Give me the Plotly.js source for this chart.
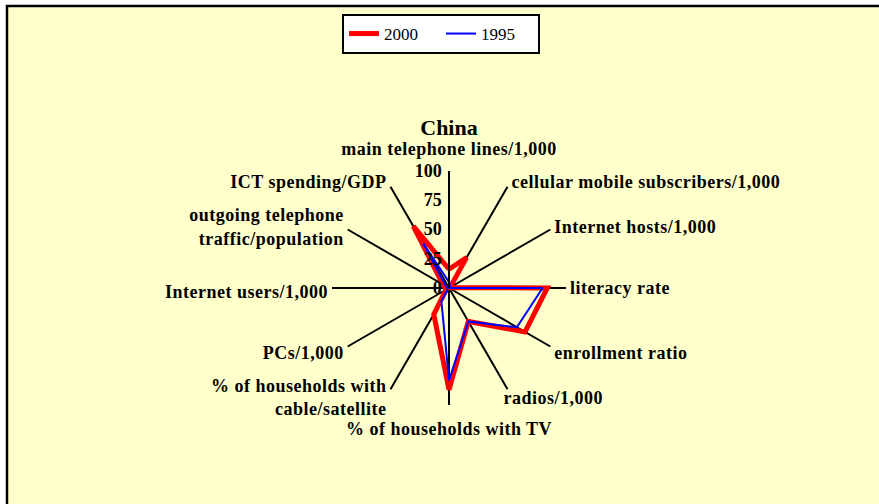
<!DOCTYPE html>
<html>
<head>
<meta charset="utf-8">
<script src="https://cdn.plot.ly/plotly-3.0.1.min.js"></script>
<style>
html,body{margin:0;padding:0;background:#ffffff;}
#chart{width:879px;height:504px;}
#chart .angularaxistick text, #chart .radialaxistick text { letter-spacing: 0.5px; }
#chart .legendtext { font-family: 'Liberation Serif', 'Times New Roman', serif !important; }
</style>
</head>
<body>
<div id="chart"></div>
<script>
const categories = [
  "main telephone lines/1,000",
  "cellular mobile subscribers/1,000",
  "Internet hosts/1,000",
  "literacy rate",
  "enrollment ratio",
  "radios/1,000",
  "% of households with TV",
  "% of households with<br>cable/satellite",
  "PCs/1,000",
  "Internet users/1,000",
  "outgoing telephone<br>traffic/population",
  "ICT spending/GDP"
];
const values2000 = [16, 30, 1, 84, 75, 33, 87, 26, 3, 3, 6, 61];
const values1995 = [5, 2, 0.5, 80, 67, 33, 79, 13, 1, 1, 3, 44];
const seriesNames = ["2000", "1995"];
const radialTicks = [0, 25, 50, 75, 100];

const FONT = "'Liberation Serif', 'Times New Roman', Times, serif";
function closed(a){ return a.concat([a[0]]); }

const traces = [
  {
    type: "scatterpolar",
    r: closed(values2000),
    theta: closed(categories),
    mode: "lines",
    name: seriesNames[0],
    line: {color: "#ff0000", width: 5},
    hoverinfo: "skip"
  },
  {
    type: "scatterpolar",
    r: closed(values1995),
    theta: closed(categories),
    mode: "lines",
    name: seriesNames[1],
    line: {color: "#0000ff", width: 2},
    hoverinfo: "skip"
  }
];

const R = 117;
const cx = 449, cy = 288, W = 879, H = 504;
// label placement (the original frame is slightly taller than wide)
const LABEL_RX = R, LABEL_RY = 122;

const layout = {
  width: W, height: H,
  margin: {l: 0, r: 0, t: 0, b: 0},
  paper_bgcolor: "#ffffff",
  font: {family: FONT, color: "#000000", size: 18},
  showlegend: true,
  title: {
    text: "<b>China</b>",
    font: {family: FONT, size: 22, color: "#000"},
    x: cx / W, xanchor: "center",
    y: 1 - 127 / H, yanchor: "middle"
  },
  legend: {
    orientation: "h",
    x: 441 / W, xanchor: "center",
    y: 1 - 14 / H, yanchor: "top",
    bgcolor: "#ffffff",
    bordercolor: "#000000",
    borderwidth: 2,
    font: {family: FONT, size: 17, color: "#000"},
    entrywidth: 52,
    tracegroupgap: 0
  },
  shapes: [
    {
      type: "rect", xref: "paper", yref: "paper", layer: "below",
      x0: 7 / W, x1: 1.02, y0: -0.02, y1: 1 - 6 / H,
      fillcolor: "#ffffcc",
      line: {color: "#000000", width: 2.5}
    }
  ],
  polar: {
    bgcolor: "rgba(0,0,0,0)",
    domain: {
      x: [(cx - R) / W, (cx + R) / W],
      y: [(H - cy - R) / H, (H - cy + R) / H]
    },
    radialaxis: {
      range: [0, 100],
      tickvals: radialTicks,
      ticktext: radialTicks.map(v => "<b>" + v + "</b>"),
      angle: 90,
      side: "counterclockwise",
      showline: true,
      linecolor: "#000000",
      linewidth: 2,
      showgrid: false,
      ticks: "",
      tickfont: {family: FONT, size: 18, color: "#000"},
      tickangle: 90
    },
    angularaxis: {
      type: "category",
      categoryarray: categories,
      direction: "clockwise",
      rotation: 90,
      showline: false,
      showgrid: true,
      gridcolor: "#000000",
      gridwidth: 2,
      ticks: "outside",
      ticklen: 8,
      tickcolor: "rgba(0,0,0,0)",
      tickvals: categories,
      ticktext: categories.map(c => "<b>" + c + "</b>"),
      tickfont: {family: FONT, size: 18, color: "#000"}
    }
  }
};

Plotly.newPlot("chart", traces, layout, {displayModeBar: false, staticPlot: true}).then(function () {
  // Place side labels like the original: vertically centred on the spoke end,
  // with a small horizontal gap.
  const N = categories.length;
  const keys = categories.map(c => c.replace(/<br>/g, "").replace(/\s+/g, ""));
  const host = document.getElementById("chart").getBoundingClientRect();
  document.querySelectorAll("#chart .angularaxistick").forEach(function (g) {
    const t = g.querySelector("text");
    if (!t) return;
    const i = keys.indexOf(t.textContent.replace(/\s+/g, ""));
    if (i < 0) return;
    const a = (90 - 360 * i / N) * Math.PI / 180;
    const s = Math.sin(a), c = Math.cos(a);
    if (Math.abs(c) < 0.1) return;
    const b = t.getBoundingClientRect();
    const curY = b.top - host.top + b.height / 2;
    const targetY = cy - LABEL_RY * s + (s < 0 ? 4 : 0);
    const gap = s < -0.7 ? (c > 0 ? -4 : 4) : 4;
    const targetX = cx + Math.sign(c) * (LABEL_RX * Math.abs(c) + gap);
    const curX = c > 0 ? (b.left - host.left) : (b.right - host.left);
    const dx = targetX - curX;
    const dy = targetY - curY;
    const prev = t.getAttribute("transform") || "";
    t.setAttribute("transform", "translate(" + dx + "," + dy + ") " + prev);
  });
});
</script>
</body>
</html>
